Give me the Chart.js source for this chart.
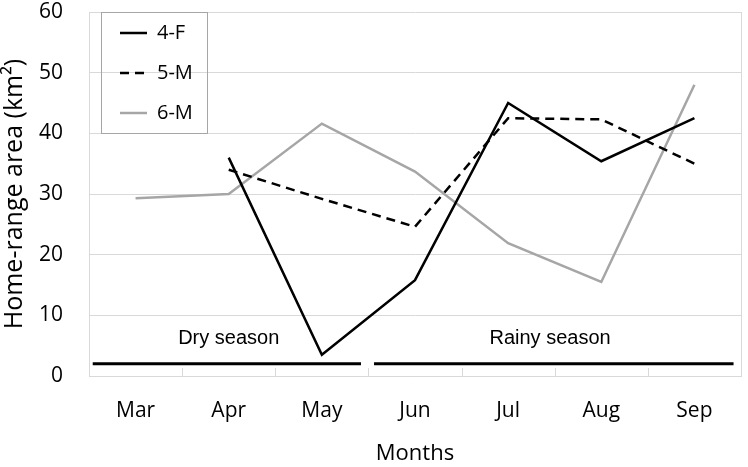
<!DOCTYPE html>
<html>
<head>
<meta charset="utf-8">
<script src="https://cdn.jsdelivr.net/npm/chart.js@4/dist/chart.umd.min.js"></script>
<style>
  body { margin: 0; background: #fff; }
</style>
</head>
<body>
<canvas id="homeRange" width="748" height="467"></canvas>
<script>
const months = ['Mar', 'Apr', 'May', 'Jun', 'Jul', 'Aug', 'Sep'];
const series4F = [null, 36, 3.5, 15.8, 45, 35.4, 42.5];
const series5M = [null, 34, 29.2, 24.6, 42.5, 42.3, 35];
const series6M = [29.3, 30, 41.6, 33.7, 21.9, 15.5, 48];

// season bars under the lines (month index range + label)
const seasonNames = ['Dry season', 'Rainy season'];
const seasonFrom = [-0.46, 2.56];
const seasonTo = [2.42, 6.42];
const seasonLabelAt = [1.0, 4.45];
const seasonLevel = 2;
const seasonTextLevel = 6.2;

const seasonPlugin = {
    id: 'seasons',
    afterLayout(chart) {
        // legend sits inside the plot, nudged a bit like the original
        const lg = chart.legend;
        const area = chart.chartArea;
        lg.left = area.left + 11;
        lg.top = area.top - 9;
        lg.right = lg.left + lg.width;
        lg.bottom = lg.top + lg.height;
    },
    beforeDatasetsDraw(chart) {
        const {ctx, chartArea, scales} = chart;
        const x = scales.x;
        ctx.save();
        ctx.strokeStyle = '#d9d9d9';
        ctx.lineWidth = 1;
        // inward tick marks between months
        for (let i = 1; i < months.length; i++) {
            const px = Math.round(x.getPixelForValue(i - 0.5)) + 0.5;
            ctx.beginPath();
            ctx.moveTo(px, chartArea.bottom);
            ctx.lineTo(px, chartArea.bottom - 8);
            ctx.stroke();
        }
        // right border
        ctx.beginPath();
        ctx.moveTo(chartArea.right + 0.5, chartArea.top);
        ctx.lineTo(chartArea.right + 0.5, chartArea.bottom);
        ctx.stroke();
        ctx.restore();
    },
    afterDatasetsDraw(chart) {
        const {ctx, scales} = chart;
        const x = scales.x, y = scales.y;
        ctx.save();
        ctx.strokeStyle = '#000';
        ctx.lineWidth = 3;
        ctx.fillStyle = '#000';
        ctx.font = '20px "Liberation Sans", Arial, sans-serif';
        ctx.textAlign = 'center';
        ctx.textBaseline = 'middle';
        for (let i = 0; i < seasonNames.length; i++) {
            const py = y.getPixelForValue(seasonLevel);
            ctx.beginPath();
            ctx.moveTo(x.getPixelForValue(seasonFrom[i]), py);
            ctx.lineTo(x.getPixelForValue(seasonTo[i]), py);
            ctx.stroke();
            ctx.fillText(seasonNames[i], x.getPixelForValue(seasonLabelAt[i]), y.getPixelForValue(seasonTextLevel));
        }
        ctx.restore();
    },
    afterDraw(chart) {
        const lg = chart.legend;
        const ctx = chart.ctx;
        ctx.save();
        ctx.strokeStyle = '#a6a6a6';
        ctx.lineWidth = 1;
        ctx.strokeRect(lg.left + 1.5, lg.top + 9.5, 106, 121);
        ctx.restore();
    }
};

new Chart(document.getElementById('homeRange'), {
    type: 'line',
    data: {
        labels: months,
        datasets: [{
            label: '4-F',
            data: series4F,
            borderColor: '#000000',
            backgroundColor: '#000000',
            borderWidth: 2.5,
        }, {
            label: '5-M',
            data: series5M,
            borderColor: '#000000',
            backgroundColor: '#000000',
            borderWidth: 2.5,
            borderDash: [9, 6],
        }, {
            label: '6-M',
            data: series6M,
            borderColor: '#a6a6a6',
            backgroundColor: '#a6a6a6',
            borderWidth: 2.5,
        }],
    },
    options: {
        responsive: false,
        animation: false,
        events: [],
        tension: 0,
        pointRadius: 0,
        layout: {
            autoPadding: false,
            padding: { top: 12, right: 7, left: 0, bottom: 0 }
        },
        plugins: {
            legend: {
                position: 'chartArea',
                fullSize: false,
                align: 'start',
                labels: {
                    boxWidth: 27,
                    boxHeight: 0,
                    padding: 20,
                    color: '#000',
                    font: { family: '"Open Sans"', size: 20 },
                }
            },
            tooltip: { enabled: false },
            title: { display: false }
        },
        scales: {
            x: {
                offset: true,
                afterFit(scale) { scale.height = 91; },
                grid: { display: false, drawTicks: false },
                border: { display: true, color: '#d9d9d9' },
                ticks: {
                    color: '#000',
                    padding: 22,
                    font: { family: '"Open Sans"', size: 21 },
                },
                title: {
                    display: true,
                    text: 'Months',
                    color: '#000',
                    font: { family: '"Open Sans"', size: 22 },
                    padding: { top: 0, bottom: 0 }
                }
            },
            y: {
                min: 0,
                max: 60,
                afterFit(scale) {
                    scale.width = 89;
                    // tick padding leaks into the top padding, drop it
                    scale.paddingTop = 0;
                    scale.paddingBottom = 0;
                },
                grid: { color: '#d9d9d9', drawTicks: false },
                border: { display: true, color: '#d9d9d9' },
                ticks: {
                    stepSize: 10,
                    color: '#000',
                    padding: 26,
                    font: { family: '"Open Sans"', size: 21 },
                },
                title: {
                    display: true,
                    text: 'Home-range area (km²)',
                    color: '#000',
                    font: { family: '"Open Sans"', size: 25 },
                    padding: { top: 0, bottom: 0 }
                }
            }
        }
    },
    plugins: [seasonPlugin]
});
</script>
</body>
</html>
